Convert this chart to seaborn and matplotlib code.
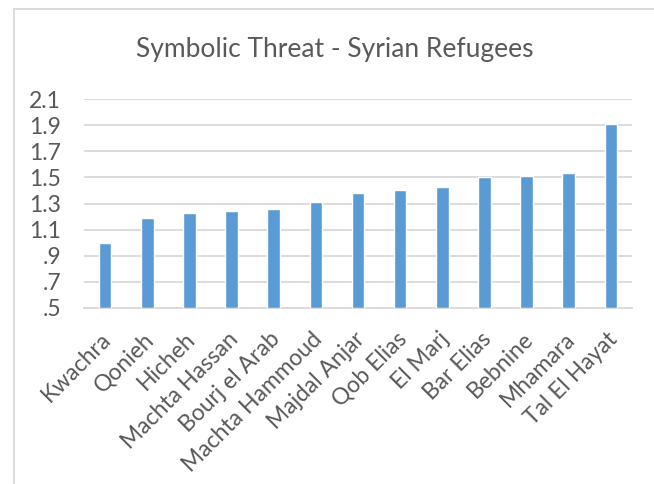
import matplotlib
matplotlib.use("Agg")
import matplotlib.pyplot as plt
import matplotlib.transforms as mtransforms
import seaborn as sns
import pandas as pd

# Mean symbolic-threat score per locality
localities = ["Kwachra", "Qonieh", "Hicheh", "Machta Hassan", "Bourj el Arab",
              "Machta Hammoud", "Majdal Anjar", "Qob Elias", "El Marj", "Bar Elias",
              "Bebnine", "Mhamara", "Tal El Hayat"]
scores = [1.00, 1.19, 1.23, 1.24, 1.26, 1.31, 1.38, 1.40, 1.43, 1.50, 1.51, 1.53, 1.91]
yticks = [0.5, 0.7, 0.9, 1.1, 1.3, 1.5, 1.7, 1.9, 2.1]
ytick_labels = [".5", ".7", ".9", "1.1", "1.3", "1.5", "1.7", "1.9", "2.1"]
title = "Symbolic Threat - Syrian Refugees"

sns.set_theme(style="white")
plt.rcParams["font.family"] = ["Lato", "DejaVu Sans"]

df = pd.DataFrame({"locality": localities, "score": scores})

text_color = "#595959"
grid_color = "#D9D9D9"
bar_color = "#5B9BD5"

fig = plt.figure(figsize=(6.54, 4.84), dpi=100)
ax = fig.add_axes([84 / 654, 1 - 308 / 484, 548 / 654, 209 / 484])

sns.barplot(data=df, x="locality", y="score", color=bar_color, width=0.3,
            saturation=1, ax=ax, zorder=3)
# bars start at the bottom of the axis (0.5) rather than zero
for patch, v in zip(ax.patches, scores):
    patch.set_y(0.5)
    patch.set_height(v - 0.5)

ax.set_ylim(0.5, 2.1)
ax.set_xlim(-0.5, len(localities) - 0.5)
ax.set_yticks(yticks)
ax.set_yticklabels(ytick_labels)
ax.yaxis.grid(True, color=grid_color, linewidth=1.3, zorder=0)
ax.set_axisbelow(True)
for side in ["left", "right", "top"]:
    ax.spines[side].set_visible(False)
ax.spines["bottom"].set_color(grid_color)
ax.spines["bottom"].set_linewidth(1.3)
ax.set_xlabel("")
ax.set_ylabel("")
ax.tick_params(axis="y", length=0, pad=16.5, labelsize=16.5, labelcolor=text_color)
ax.tick_params(axis="x", length=0, pad=20, labelsize=16.5, labelcolor=text_color)
for lab in ax.get_yticklabels():
    lab.set_horizontalalignment("right")
ax.set_xticks(range(len(localities)))
ax.set_xticklabels(localities, rotation=45, ha="right", va="center",
                   rotation_mode="anchor")
# nudge the slanted category labels slightly to the right
shift = mtransforms.ScaledTranslation(3 / 100, 0, fig.dpi_scale_trans)
for lab in ax.get_xticklabels():
    lab.set_transform(lab.get_transform() + shift)

fig.text(335 / 654, 1 - 50 / 484, title, ha="center", va="center",
         fontsize=19, color=text_color)

# chart-area frame along the left and top
fig.add_artist(plt.Line2D([14 / 654, 14 / 654], [0, 1 - 9 / 484],
                          transform=fig.transFigure, color=grid_color, linewidth=1.3))
fig.add_artist(plt.Line2D([14 / 654, 1], [1 - 9 / 484, 1 - 9 / 484],
                          transform=fig.transFigure, color=grid_color, linewidth=1.3))

fig.savefig("out.png", dpi=100, facecolor="white")
